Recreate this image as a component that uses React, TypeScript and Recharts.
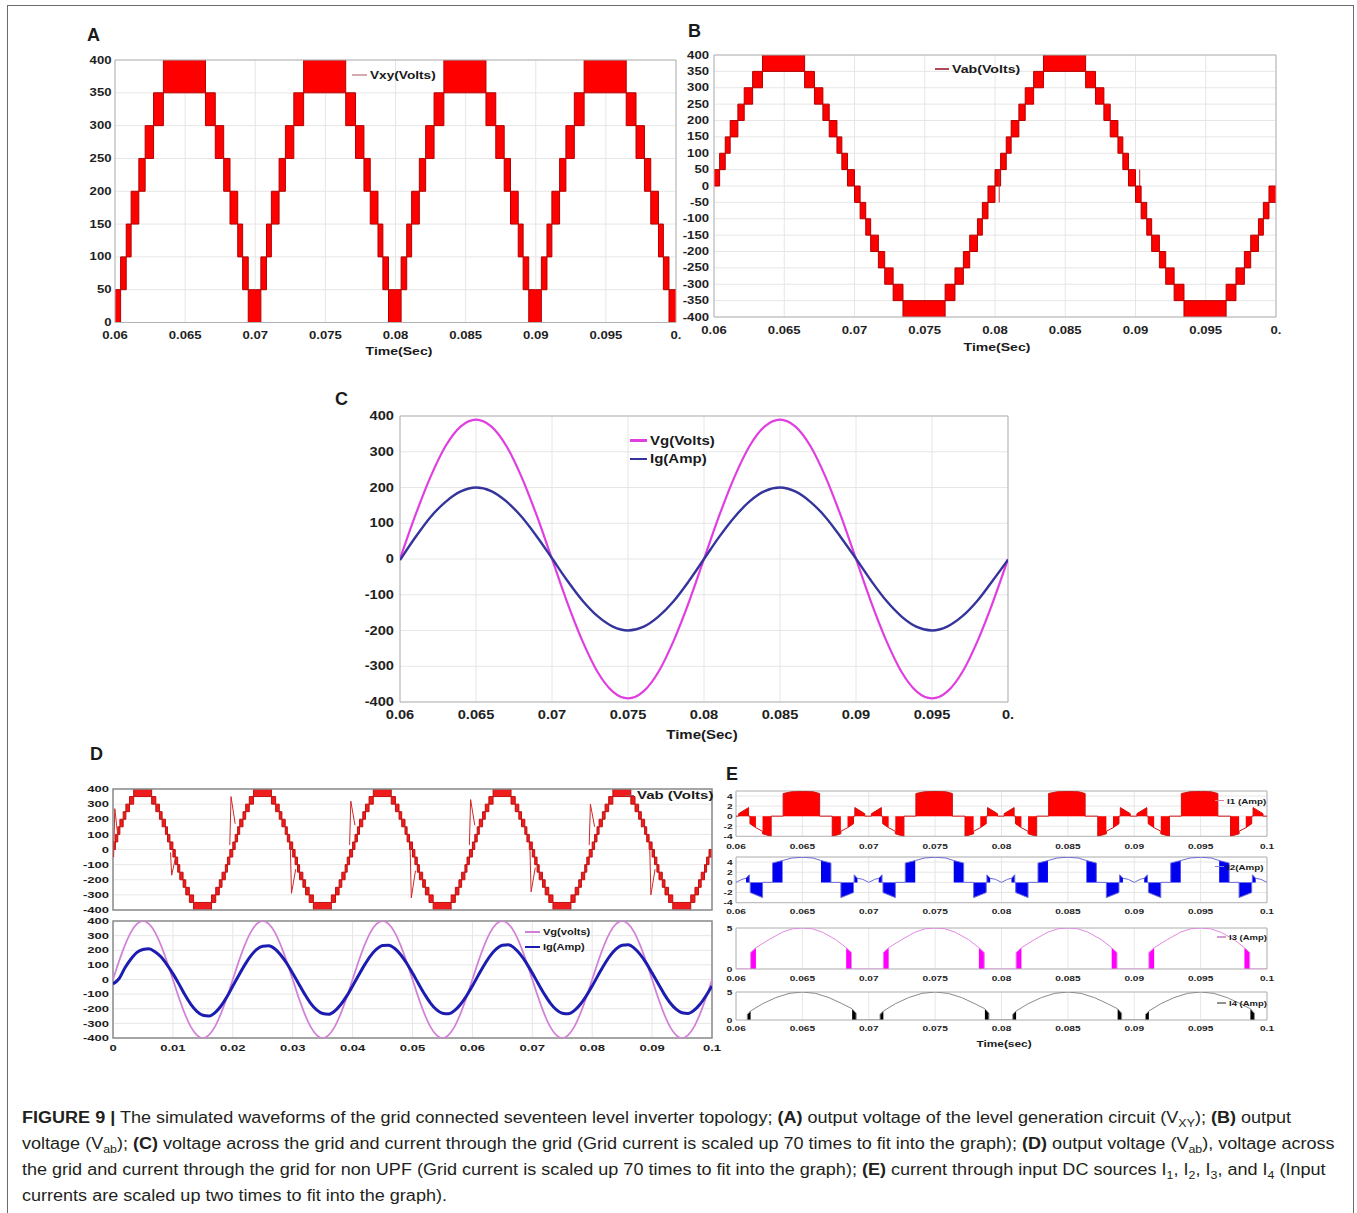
import React from "react";
import {
  ComposedChart,
  Area,
  Line,
  XAxis,
  YAxis,
  CartesianGrid,
  ReferenceArea,
} from "recharts";

const FONT = "'Liberation Sans', Arial, Helvetica, sans-serif";

// ---------- staircase (17 level) : switching bands, ms from start of each half cycle ----------
const bandStartMs = [0, 0.4, 0.8, 1.15, 1.7, 2.15, 2.75, 3.45, 6.45, 7.15, 7.75, 8.2, 8.75, 9.1, 9.5];
const bandLevel = [0, 1, 2, 3, 4, 5, 6, 7, 6, 5, 4, 3, 2, 1, 0];
const stepVolts = 50;

const aHalfStarts = [0.06, 0.07, 0.08, 0.09];
const aPolarity = [1, 1, 1, 1];
const bHalfStarts = [0.06, 0.07, 0.08, 0.09];
const bPolarity = [1, -1, 1, -1];
const dHalfStarts = [0, 0.01, 0.02, 0.03, 0.04, 0.05, 0.06, 0.07, 0.08, 0.09];
const dPolarity = [1, -1, 1, -1, 1, -1, 1, -1, 1, -1];

// thin glitches on Vab traces: [time, volts] per glitch
const bGlitches = [
  [[0.0803, 50], [0.0803, -50]],
  [[0.0903, 50], [0.0903, 0]],
];
const dGlitches = [
  [[0.0001, -50], [0.0003, 270], [0.0008, 90]],
  [[0.0096, -20], [0.0098, -170], [0.0104, -60]],
  [[0.0195, 30], [0.0197, 350], [0.0204, 170]],
  [[0.0296, 20], [0.0298, -290], [0.0305, -130]],
  [[0.0395, 30], [0.0397, 320], [0.0404, 160]],
  [[0.0496, 20], [0.0498, -320], [0.0505, -140]],
  [[0.0595, 30], [0.0597, 330], [0.0604, 160]],
  [[0.0696, 20], [0.0698, -280], [0.0705, -120]],
  [[0.0795, 30], [0.0797, 300], [0.0804, 150]],
  [[0.0896, 20], [0.0898, -300], [0.0905, -130]],
];

// ---------- panel C : sampled every 1 ms from 0.06 s ----------
const cStart = 0.06;
const cVg = [0, 121, 229, 316, 371, 390, 371, 316, 229, 121, 0, -121, -229, -316, -371, -390, -371, -316, -229, -121,
  0, 121, 229, 316, 371, 390, 371, 316, 229, 121, 0, -121, -229, -316, -371, -390, -371, -316, -229, -121, 0];
const cIg = [-3, 60, 117, 160, 189, 200, 190, 161, 118, 63, 2, -60, -116, -160, -189, -200, -190, -161, -118, -62,
  0, 62, 117, 161, 190, 200, 189, 160, 117, 61, 1, -61, -117, -161, -190, -200, -189, -160, -116, -60, -2];

// ---------- panel D (lower) : sampled every 1 ms from 0 s ----------
const dStart = 0;
const dVg = [
  0, 124, 235, 324, 380, 400, 380, 324, 235, 124, 0, -124, -235, -324, -380, -400, -380, -324, -235, -124,
  0, 124, 235, 324, 380, 400, 380, 324, 235, 124, 0, -124, -235, -324, -380, -400, -380, -324, -235, -124,
  0, 124, 235, 324, 380, 400, 380, 324, 235, 124, 0, -124, -235, -324, -380, -400, -380, -324, -235, -124,
  0, 124, 235, 324, 380, 400, 380, 324, 235, 124, 0, -124, -235, -324, -380, -400, -380, -324, -235, -124,
  0, 124, 235, 324, 380, 400, 380, 324, 235, 124, 0, -124, -235, -324, -380, -400, -380, -324, -235, -124,
  0,
];
const dIg = [
  -30, 5, 80, 140, 185, 205, 210, 190, 155, 102, 40, -30, -105, -170, -218, -245, -250, -228, -183, -120,
  -45, 29, 100, 161, 206, 228, 230, 210, 168, 111, 43, -29, -100, -163, -208, -233, -238, -216, -173, -114,
  -44, 29, 100, 162, 207, 232, 235, 214, 171, 113, 44, -29, -99, -161, -206, -231, -235, -213, -171, -113,
  -44, 30, 101, 163, 209, 234, 237, 215, 172, 114, 44, -29, -99, -161, -206, -231, -235, -213, -171, -113,
  -44, 30, 101, 163, 209, 234, 237, 215, 172, 114, 44, -28, -98, -159, -203, -228, -232, -210, -169, -111,
  -44,
];

// ---------- panel E : input DC source currents, [ms in cycle, amps] ----------
const eCycleStarts = [0.06, 0.07, 0.08, 0.09];
const i1Trace = [[0, 0], [0.2, 0], [0.2, 0.5], [0.95, 1.7], [0.95, 0], [1.05, 0], [1.05, -1.5], [1.5, -2.3], [2.0, -3.0],
  [2.0, -3.5], [2.65, -4.0], [2.65, 0], [3.55, 0], [3.55, 4.5], [4.2, 4.85], [5.0, 4.9], [5.8, 4.85], [6.3, 4.5], [6.3, 0],
  [7.25, 0], [7.25, -4.0], [7.9, -3.5], [7.9, -3.0], [8.4, -2.3], [8.85, -1.5], [8.85, 0], [8.95, 0], [8.95, 1.7],
  [9.7, 0.5], [9.7, 0], [10, 0]];
const i1Blocks = [[[0.2, 0.5], [0.95, 1.7]], [[1.05, -1.5], [1.5, -2.3]], [[2.0, -3.5], [2.65, -4.0]],
  [[3.55, 4.5], [4.2, 4.85], [5.0, 4.9], [5.8, 4.85], [6.3, 4.5]], [[7.25, -4.0], [7.9, -3.5]],
  [[8.4, -2.3], [8.85, -1.5]], [[8.95, 1.7], [9.7, 0.5]]];
const i2Trace = [[0, 0], [0.45, 0.6], [0.75, 0.8], [1.0, 1.5], [1.0, 0], [1.07, 0], [1.07, -2.0], [2.0, -3.0], [2.0, 0],
  [2.75, 0], [2.75, 3.8], [3.5, 4.3], [4.2, 4.8], [5.0, 4.95], [5.8, 4.8], [6.4, 4.3], [7.15, 3.8], [7.15, 0], [7.9, 0],
  [7.9, -3.0], [8.85, -2.0], [8.85, 0], [8.9, 0], [8.9, 1.5], [9.15, 0.8], [9.55, 0.6], [10, 0]];
const i2Blocks = [[[0.75, 0.8], [1.0, 1.5]], [[1.07, -2.0], [2.0, -3.0]], [[2.75, 3.8], [3.5, 4.3]],
  [[6.4, 4.3], [7.15, 3.8]], [[7.9, -3.0], [8.85, -2.0]], [[8.9, 1.5], [9.15, 0.8]]];
const i3Trace = [[0, 0], [1.1, 0], [1.1, 2.0], [1.5, 2.6], [2.5, 3.6], [3.5, 4.5], [4.25, 4.9], [5.0, 5.0], [5.75, 4.9],
  [6.5, 4.5], [7.5, 3.6], [8.3, 2.6], [8.7, 2.0], [8.7, 0], [10, 0]];
const i3Blocks = [[[1.1, 2.0], [1.5, 2.6]], [[8.3, 2.6], [8.7, 2.0]]];
const i4Trace = [[0.85, 0], [0.85, 1.0], [1.1, 1.6], [2.0, 2.9], [3.0, 4.0], [4.0, 4.75], [5.0, 5.0], [6.0, 4.75],
  [7.0, 4.0], [8.0, 2.9], [8.75, 2.0], [9.05, 1.2], [9.05, 0]];
const i4Blocks = [[[0.85, 1.0], [1.1, 1.6]], [[8.75, 2.0], [9.05, 1.2]]];

// ---------- ticks ----------
const t06Ticks = [0.06, 0.065, 0.07, 0.075, 0.08, 0.085, 0.09, 0.095, 0.1];
const t06Labels = ["0.06", "0.065", "0.07", "0.075", "0.08", "0.085", "0.09", "0.095", "0."];
const eXLabels = ["0.06", "0.065", "0.07", "0.075", "0.08", "0.085", "0.09", "0.095", "0.1"];
const aYTicks = [0, 50, 100, 150, 200, 250, 300, 350, 400];
const bYTicks = [-400, -350, -300, -250, -200, -150, -100, -50, 0, 50, 100, 150, 200, 250, 300, 350, 400];
const cYTicks = [-400, -300, -200, -100, 0, 100, 200, 300, 400];
const dXTicks = [0, 0.01, 0.02, 0.03, 0.04, 0.05, 0.06, 0.07, 0.08, 0.09, 0.1];
const dXLabels = ["0", "0.01", "0.02", "0.03", "0.04", "0.05", "0.06", "0.07", "0.08", "0.09", "0.1"];
const e12YTicks = [-4, -2, 0, 2, 4];
const e34YTicks = [0, 5];

// ---------- data builders ----------
type P = { t: number; v: number | null };

function stairs(starts: number[], pol: number[], end: number) {
  const out: { t: number; r: number[] }[] = [];
  starts.forEach((T, c) =>
    bandStartMs.forEach((ms, i) => {
      const lo = bandLevel[i] * stepVolts;
      const hi = lo + stepVolts;
      out.push({ t: T + ms / 1000, r: pol[c] > 0 ? [lo, hi] : [-hi, -lo] });
    })
  );
  out.push({ t: end, r: out[out.length - 1].r });
  return out;
}

function sampled(vals: number[], t0: number): P[] {
  return vals.map((v, i) => ({ t: t0 + i * 0.001, v }));
}

function segs(list: number[][][]): P[] {
  return list.flatMap((s) => [...s.map(([t, v]) => ({ t, v })), { t: s[s.length - 1][0], v: null }]);
}

function cyc(pts: number[][], starts: number[]): P[] {
  return starts.flatMap((T) => pts.map(([ms, v]) => ({ t: T + ms / 1000, v })));
}

function blk(blocks: number[][][], starts: number[]): P[] {
  return starts.flatMap((T) =>
    blocks.flatMap((b) => [
      ...b.map(([ms, v]) => ({ t: T + ms / 1000, v })),
      { t: T + b[b.length - 1][0] / 1000, v: null },
    ])
  );
}

const aData = stairs(aHalfStarts, aPolarity, 0.1);
const bData = stairs(bHalfStarts, bPolarity, 0.1);
const dData = stairs(dHalfStarts, dPolarity, 0.1);

// ---------- small helpers ----------
function mkTick(fs: number, sx: number, anchor: "middle" | "end", lab: (v: number) => string, dx: number, dy: number) {
  return (p: any) => (
    <text
      transform={`translate(${p.x + dx},${p.y + dy}) scale(${sx},1)`}
      textAnchor={anchor}
      dominantBaseline="central"
      fontSize={fs}
      fontWeight={700}
      fontFamily={FONT}
      fill="#1e1e1e"
    >
      {lab(p.payload.value)}
    </text>
  );
}

type PanelProps = {
  x: number; y: number; w: number; h: number;
  xDomain: [number, number]; xTicks: number[]; xLabels?: string[];
  yDomain: [number, number]; yTicks: number[];
  fs: number; sx: number; yGap: number; xGap: number;
  frame?: string; frameW?: number; grid?: string;
  children: React.ReactNode;
};

function Panel(p: PanelProps) {
  const yW = 50, mt = 12, mr = 24, mb = 30;
  const xLab = (v: number) => (p.xLabels ? p.xLabels[p.xTicks.indexOf(v)] ?? "" : "");
  const yLab = (v: number) => String(v);
  return (
    <div style={{ position: "absolute", left: p.x - yW, top: p.y - mt }}>
      <ComposedChart width={yW + p.w + mr} height={mt + p.h + mb} margin={{ top: mt, right: mr, bottom: 0, left: 0 }}>
        <CartesianGrid stroke={p.grid ?? "#e6e6e6"} strokeWidth={1} />
        <XAxis
          type="number" dataKey="t" domain={p.xDomain} ticks={p.xTicks} allowDataOverflow interval={0}
          height={mb} axisLine={false} tickLine={false} tickSize={0} tickMargin={0}
          tick={p.xLabels ? mkTick(p.fs, p.sx, "middle", xLab, 0, p.xGap) : false}
        />
        <YAxis
          type="number" domain={p.yDomain} ticks={p.yTicks} allowDataOverflow interval={0}
          width={yW} axisLine={false} tickLine={false} tickSize={0} tickMargin={0}
          tick={mkTick(p.fs, p.sx, "end", yLab, -p.yGap, 0)}
        />
        {p.children}
        <ReferenceArea
          x1={p.xDomain[0]} x2={p.xDomain[1]} y1={p.yDomain[0]} y2={p.yDomain[1]}
          fill="none" fillOpacity={0} stroke={p.frame ?? "#b3b3b3"} strokeWidth={p.frameW ?? 1} ifOverflow="visible"
        />
      </ComposedChart>
    </div>
  );
}

function Txt(props: { x: number; y: number; s: React.ReactNode; fs: number; bold?: boolean; sx?: number; mid?: boolean; color?: string }) {
  const { x, y, s, fs, bold, sx = 1, mid, color = "#1a1a1a" } = props;
  return (
    <div
      style={{
        position: "absolute", left: x, top: y, fontSize: fs, fontWeight: bold ? 700 : 400, fontFamily: FONT,
        whiteSpace: "nowrap", lineHeight: 1, color,
        transform: `translate(${mid ? "-50%" : "0"}, -50%) scaleX(${sx})`,
        transformOrigin: mid ? "center" : "left center",
      }}
    >
      {s}
    </div>
  );
}

function Leg(props: { x1: number; x2: number; y: number; color: string; lw: number; text: string; fs: number; sx: number }) {
  const { x1, x2, y, color, lw, text, fs, sx } = props;
  return (
    <>
      <div style={{ position: "absolute", left: x1, top: y - lw / 2, width: x2 - x1, height: lw, background: color }} />
      <Txt x={x2 + 3} y={y} s={text} fs={fs} bold sx={sx} />
    </>
  );
}

const Sub = ({ children }: { children: React.ReactNode }) => (
  <span style={{ fontSize: 11, position: "relative", top: 4 }}>{children}</span>
);

const CAP_SX = 1.127;

export default function App() {
  const eProps = { x: 736, w: 531, xDomain: [0.06, 0.1] as [number, number], xTicks: t06Ticks, xLabels: eXLabels, fs: 7.5, sx: 1.35, yGap: 3.5, frame: "#b8b8b8" };
  return (
    <div style={{ position: "absolute", left: 0, top: 0, width: 1357, height: 1213, overflow: "hidden", background: "#fff", fontFamily: FONT }}>
      <div style={{ position: "absolute", left: 7, top: 5, width: 1345, height: 1230, border: "1.5px solid #6b6b6b" }} />

      {/* ---------------- A ---------------- */}
      <Txt x={87} y={34.5} s="A" fs={18} bold />
      <Panel x={115} y={60} w={561} h={262.5} xDomain={[0.06, 0.1]} xTicks={t06Ticks} xLabels={t06Labels}
        yDomain={[0, 400]} yTicks={aYTicks} fs={10.5} sx={1.25} yGap={3.5} xGap={12.5}>
        <Area data={aData} dataKey="r" type="stepAfter" fill="#ff0000" fillOpacity={1} stroke="#b30000" strokeWidth={1} isAnimationActive={false} dot={false} activeDot={false} />
      </Panel>
      <Leg x1={352} x2={367} y={75} color="#d5a9b0" lw={2} text="Vxy(Volts)" fs={10.5} sx={1.3} />
      <Txt x={398.5} y={352} s="Time(Sec)" fs={11.5} bold sx={1.22} mid />

      {/* ---------------- B ---------------- */}
      <Txt x={688} y={31} s="B" fs={18} bold />
      <Panel x={714} y={55} w={562} h={262} xDomain={[0.06, 0.1]} xTicks={t06Ticks} xLabels={t06Labels}
        yDomain={[-400, 400]} yTicks={bYTicks} fs={10.5} sx={1.25} yGap={5} xGap={13.5}>
        <Area data={bData} dataKey="r" type="stepAfter" fill="#ff0000" fillOpacity={1} stroke="#b30000" strokeWidth={1} isAnimationActive={false} dot={false} activeDot={false} />
        <Line data={segs(bGlitches)} dataKey="v" type="linear" stroke="#c83030" strokeWidth={1} dot={false} activeDot={false} isAnimationActive={false} />
      </Panel>
      <Leg x1={935} x2={949} y={69} color="#b04a58" lw={1.5} text="Vab(Volts)" fs={10.5} sx={1.35} />
      <Txt x={997} y={348} s="Time(Sec)" fs={11.5} bold sx={1.22} mid />

      {/* ---------------- C ---------------- */}
      <Txt x={335} y={399} s="C" fs={18} bold />
      <Panel x={400} y={416} w={608} h={286} xDomain={[0.06, 0.1]} xTicks={t06Ticks} xLabels={t06Labels}
        yDomain={[-400, 400]} yTicks={cYTicks} fs={12} sx={1.22} yGap={6} xGap={13}>
        <Line data={sampled(cVg, cStart)} dataKey="v" type="monotone" stroke="#e03ee0" strokeWidth={2.2} dot={false} activeDot={false} isAnimationActive={false} />
        <Line data={sampled(cIg, cStart)} dataKey="v" type="monotone" stroke="#34349c" strokeWidth={2.4} dot={false} activeDot={false} isAnimationActive={false} />
      </Panel>
      <Leg x1={630} x2={647} y={440.5} color="#e03ee0" lw={2.5} text="Vg(Volts)" fs={12} sx={1.25} />
      <Leg x1={630} x2={647} y={458.5} color="#34349c" lw={2} text="Ig(Amp)" fs={12} sx={1.25} />
      <Txt x={702} y={735} s="Time(Sec)" fs={12.5} bold sx={1.2} mid />

      {/* ---------------- D ---------------- */}
      <Txt x={90} y={754} s="D" fs={18} bold />
      <Panel x={113} y={789} w={599} h={121} xDomain={[0, 0.1]} xTicks={dXTicks}
        yDomain={[-400, 400]} yTicks={cYTicks} fs={9} sx={1.45} yGap={4} xGap={10} frame="#8c8c8c" frameW={1.5}>
        <Area data={dData} dataKey="r" type="stepAfter" fill="#ee1c1c" fillOpacity={1} stroke="#c01010" strokeWidth={1} isAnimationActive={false} dot={false} activeDot={false} />
        <Line data={segs(dGlitches)} dataKey="v" type="linear" stroke="#d02828" strokeWidth={1} dot={false} activeDot={false} isAnimationActive={false} />
      </Panel>
      <Leg x1={625} x2={634} y={795.5} color="#b04a58" lw={1.5} text="Vab (Volts)" fs={10} sx={1.5} />
      <Panel x={113} y={921} w={599} h={117} xDomain={[0, 0.1]} xTicks={dXTicks} xLabels={dXLabels}
        yDomain={[-400, 400]} yTicks={cYTicks} fs={9} sx={1.45} yGap={4} xGap={10} frame="#8c8c8c" frameW={1.5}>
        <Line data={sampled(dVg, dStart)} dataKey="v" type="monotone" stroke="#d27fd8" strokeWidth={1.7} dot={false} activeDot={false} isAnimationActive={false} />
        <Line data={sampled(dIg, dStart)} dataKey="v" type="monotone" stroke="#1c1cb0" strokeWidth={3} dot={false} activeDot={false} isAnimationActive={false} />
      </Panel>
      <Leg x1={525} x2={540} y={931.5} color="#d27fd8" lw={2} text="Vg(volts)" fs={8.5} sx={1.3} />
      <Leg x1={525} x2={540} y={947} color="#1c1cb0" lw={2} text="Ig(Amp)" fs={8.5} sx={1.3} />

      {/* ---------------- E ---------------- */}
      <Txt x={726} y={773.5} s="E" fs={18} bold />
      <Panel {...eProps} y={791} h={45.3} yDomain={[-4, 5]} yTicks={e12YTicks} xGap={10}>
        <Area data={blk(i1Blocks, eCycleStarts)} dataKey="v" type="linear" baseValue={0} fill="#ff0000" fillOpacity={1} stroke="none" isAnimationActive={false} dot={false} activeDot={false} />
        <Line data={cyc(i1Trace, eCycleStarts)} dataKey="v" type="linear" stroke="#d01010" strokeWidth={1} dot={false} activeDot={false} isAnimationActive={false} />
      </Panel>
      <Leg x1={1215} x2={1224} y={800.5} color="#d08090" lw={1.2} text="I1 (Amp)" fs={7} sx={1.4} />
      <Panel {...eProps} y={857} h={45.7} yDomain={[-4, 5]} yTicks={e12YTicks} xGap={9}>
        <Area data={blk(i2Blocks, eCycleStarts)} dataKey="v" type="linear" baseValue={0} fill="#0000f0" fillOpacity={1} stroke="none" isAnimationActive={false} dot={false} activeDot={false} />
        <Line data={cyc(i2Trace, eCycleStarts)} dataKey="v" type="linear" stroke="#6a6ad8" strokeWidth={1} dot={false} activeDot={false} isAnimationActive={false} />
      </Panel>
      <Leg x1={1215} x2={1224} y={866.5} color="#8080d0" lw={1.2} text="I2(Amp)" fs={7} sx={1.4} />
      <Panel {...eProps} y={927.7} h={41} yDomain={[0, 5]} yTicks={e34YTicks} xGap={9}>
        <Area data={blk(i3Blocks, eCycleStarts)} dataKey="v" type="linear" baseValue={0} fill="#ff00ff" fillOpacity={1} stroke="none" isAnimationActive={false} dot={false} activeDot={false} />
        <Line data={cyc(i3Trace, eCycleStarts)} dataKey="v" type="linear" stroke="#e08ae0" strokeWidth={1} dot={false} activeDot={false} isAnimationActive={false} />
      </Panel>
      <Leg x1={1217} x2={1226} y={937} color="#d0a0d0" lw={1.2} text="I3 (Amp)" fs={7} sx={1.35} />
      <Panel {...eProps} y={991.7} h={28} yDomain={[0, 5]} yTicks={e34YTicks} xGap={8.5}>
        <Area data={blk(i4Blocks, eCycleStarts)} dataKey="v" type="linear" baseValue={0} fill="#000000" fillOpacity={1} stroke="none" isAnimationActive={false} dot={false} activeDot={false} />
        <Line data={cyc(i4Trace, eCycleStarts)} dataKey="v" type="linear" stroke="#8a8a8a" strokeWidth={1} dot={false} activeDot={false} isAnimationActive={false} />
      </Panel>
      <Leg x1={1217} x2={1226} y={1003} color="#909090" lw={1.2} text="I4 (Amp)" fs={7} sx={1.35} />
      <Txt x={1004} y={1044} s="Time(sec)" fs={9.5} bold sx={1.25} mid />

      {/* ---------------- caption ---------------- */}
      <div style={{ position: "absolute", left: 22, top: 1108, fontSize: 16, lineHeight: "20px", color: "#231f20", whiteSpace: "nowrap", transform: `scaleX(${CAP_SX})`, transformOrigin: "left top" }}>
        <div><b>FIGURE 9 |</b> The simulated waveforms of the grid connected seventeen level inverter topology; <b>(A)</b> output voltage of the level generation circuit (V<Sub>XY</Sub>); <b>(B)</b> output</div>
        <div style={{ marginTop: 5 }}>voltage (V<Sub>ab</Sub>); <b>(C)</b> voltage across the grid and current through the grid (Grid current is scaled up 70 times to fit into the graph); <b>(D)</b> output voltage (V<Sub>ab</Sub>), voltage across</div>
        <div style={{ marginTop: 5 }}>the grid and current through the grid for non UPF (Grid current is scaled up 70 times to fit into the graph); <b>(E)</b> current through input DC sources I<Sub>1</Sub>, I<Sub>2</Sub>, I<Sub>3</Sub>, and I<Sub>4</Sub> (Input</div>
        <div style={{ marginTop: 5 }}>currents are scaled up two times to fit into the graph).</div>
      </div>
    </div>
  );
}
